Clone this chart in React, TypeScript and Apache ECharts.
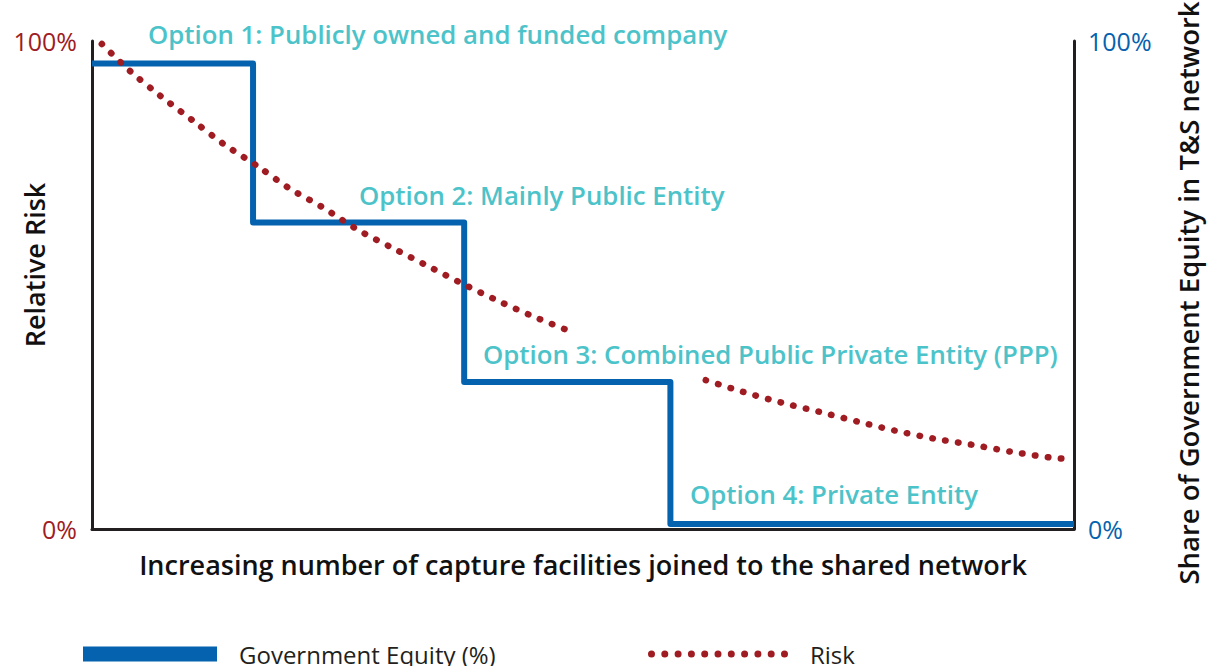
import React, { useEffect, useRef } from "react";
import * as echarts from "echarts";

// Government equity step breakpoints (x: share of capture facilities axis 0-100, y: % equity)
const stepX = [0, 16.4, 37.9, 58.9, 100];
const stepY = [95.4, 62.8, 30.1, 1, 1];

// Relative risk curve, segment 1 and segment 2
const risk1X = [1.0, 3.9, 7.0, 10.2, 13.4, 16.9, 20.1, 23.5, 27.0, 30.5, 34.1, 37.7, 41.3, 45.0, 48.7];
const risk1Y = [99.4, 93.8, 88.7, 83.8, 78.9, 74.3, 69.8, 65.9, 61.4, 57.7, 54.0, 50.3, 46.8, 43.5, 40.5];
const risk2X = [62.5, 66.3, 70.2, 74.1, 78.0, 81.9, 85.8, 89.8, 93.7, 97.7, 99.0];
const risk2Y = [30.5, 28.1, 25.9, 24.0, 22.0, 20.1, 18.5, 17.2, 15.8, 14.6, 14.4];

const yTicks = [0, 100];

const optionLabels = [
  "Option 1: Publicly owned and funded company",
  "Option 2: Mainly Public Entity",
  "Option 3: Combined Public Private Entity (PPP)",
  "Option 4: Private Entity",
];

const xTitle = "Increasing number of capture facilities joined to the shared network";
const yLeftTitle = "Relative Risk";
const yRightTitle = "Share of Government Equity in T&S network";
const seriesNames = ["Government Equity (%)", "Risk"];

const BLUE = "#0562ae";
const RED = "#9e1c22";
const TEAL = "#4cc3c9";
const INK = "#231f20";
const FONT = "'Open Sans', Lato, sans-serif";

function dotsPath(n: number, w: number, r: number) {
  const step = (w - 2 * r) / (n - 1);
  let d = "";
  for (let i = 0; i < n; i++) {
    const cx = r + i * step;
    d += `M${cx - r},${r}a${r},${r} 0 1,0 ${2 * r},0a${r},${r} 0 1,0 ${-2 * r},0Z`;
  }
  return "path://" + d;
}

export default function App() {
  const ref = useRef<HTMLDivElement>(null);
  useEffect(() => {
    if (!ref.current) return;
    const chart = echarts.init(ref.current, null, { renderer: "svg" });
    const zip = (xs: number[], ys: number[]) => xs.map((x, i) => [x, ys[i]]);
    const optPos = [
      [148, 34],
      [359, 195],
      [483, 354],
      [690, 494],
    ];
    chart.setOption({
      animation: false,
      textStyle: { fontFamily: FONT },
      grid: { left: 92, right: 136, top: 41, bottom: 137, containLabel: false },
      xAxis: {
        type: "value",
        min: 0,
        max: 100,
        axisLine: { show: true, lineStyle: { color: INK, width: 3 } },
        axisTick: { show: false },
        axisLabel: { show: false },
        splitLine: { show: false },
      },
      yAxis: [
        {
          type: "value",
          min: yTicks[0],
          max: yTicks[1],
          interval: 100,
          position: "left",
          axisLine: { show: true, lineStyle: { color: INK, width: 3 } },
          axisTick: { show: false },
          splitLine: { show: false },
          axisLabel: {
            formatter: "{value}%",
            color: RED,
            fontSize: 25,
            fontWeight: "normal",
            fontFamily: FONT,
            margin: 15,
          },
        },
        {
          type: "value",
          min: yTicks[0],
          max: yTicks[1],
          interval: 100,
          position: "right",
          axisLine: { show: true, lineStyle: { color: INK, width: 3 } },
          axisTick: { show: false },
          splitLine: { show: false },
          axisLabel: {
            formatter: "{value}%",
            color: BLUE,
            fontSize: 25,
            fontWeight: "normal",
            fontFamily: FONT,
            margin: 14,
          },
        },
      ],
      legend: [
        {
          data: [{ name: seriesNames[0], icon: "rect" }],
          left: 78,
          top: 637,
          itemWidth: 134,
          itemHeight: 15,
          selectedMode: false,
          textStyle: { fontSize: 24, color: INK, fontFamily: FONT, padding: [0, 0, 0, 17] },
        },
        {
          data: [{ name: seriesNames[1], icon: dotsPath(11, 140, 3.5), itemStyle: { color: RED } }],
          left: 643,
          top: 637,
          itemWidth: 140,
          itemHeight: 7,
          selectedMode: false,
          textStyle: { fontSize: 24, color: INK, fontFamily: FONT, padding: [0, 0, 0, 17] },
        },
      ],
      series: [
        {
          name: seriesNames[0],
          type: "line",
          yAxisIndex: 1,
          step: "end",
          data: zip(stepX, stepY),
          showSymbol: false,
          color: BLUE,
          lineStyle: { color: BLUE, width: 6, join: "round" },
          z: 3,
        },
        {
          name: seriesNames[1],
          type: "line",
          data: zip(risk1X, risk1Y),
          smooth: 0.3,
          showSymbol: false,
          color: RED,
          lineStyle: { color: RED, width: 6.5, type: [0.5, 12.5], cap: "round" },
          z: 4,
        },
        {
          name: seriesNames[1],
          type: "line",
          data: zip(risk2X, risk2Y),
          smooth: 0.3,
          showSymbol: false,
          color: RED,
          lineStyle: { color: RED, width: 6.5, type: [0.5, 12.5], cap: "round" },
          z: 4,
        },
      ],
      graphic: [
        ...optionLabels.map((t, i) => ({
          type: "text",
          x: optPos[i][0],
          y: optPos[i][1],
          z: 10,
          style: {
            text: t,
            fill: TEAL,
            font: `600 25.8px ${FONT}`,
            textAlign: "left",
            textVerticalAlign: "middle",
          },
        })),
        {
          type: "text",
          x: 583,
          y: 564,
          style: {
            text: xTitle,
            fill: "#111",
            font: `600 27px ${FONT}`,
            textAlign: "center",
            textVerticalAlign: "middle",
          },
        },
        {
          type: "text",
          x: 34,
          y: 265,
          rotation: Math.PI / 2,
          style: {
            text: yLeftTitle,
            fill: "#111",
            font: `600 27px ${FONT}`,
            textAlign: "center",
            textVerticalAlign: "middle",
          },
        },
        {
          type: "text",
          x: 1188,
          y: 293,
          rotation: Math.PI / 2,
          style: {
            text: yRightTitle,
            fill: "#111",
            font: `600 27.5px ${FONT}`,
            textAlign: "center",
            textVerticalAlign: "middle",
          },
        },
      ],
    });
    return () => chart.dispose();
  }, []);
  return (
    <div
      ref={ref}
      style={{ position: "fixed", left: 0, top: 0, width: 1210, height: 666, background: "#fff" }}
    />
  );
}
